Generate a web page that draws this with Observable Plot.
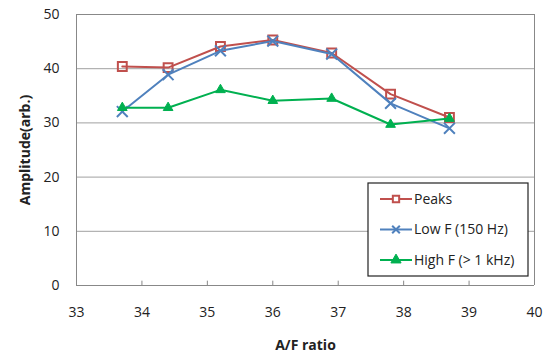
<!DOCTYPE html>
<html><head><meta charset="utf-8">
<script src="https://cdn.jsdelivr.net/npm/d3@7"></script>
<script src="https://cdn.jsdelivr.net/npm/@observablehq/plot@0.6"></script>
<style>
body{margin:0;background:#fff;}
#chart{position:relative;width:550px;height:356px;}
</style>
</head><body><div id="chart"></div>
<script>
const afRatio = [33.7, 34.4, 35.2, 36.0, 36.9, 37.8, 38.7];
const peaks = [40.4, 40.2, 44.1, 45.3, 42.9, 35.3, 31.0];
const lowF = [32.1, 38.9, 43.3, 45.1, 42.7, 33.6, 29.0];
const highF = [32.8, 32.8, 36.1, 34.1, 34.5, 29.7, 30.8];
const seriesNames = ["Peaks", "Low F (150 Hz)", "High F (> 1 kHz)"];
const xTicks = [33, 34, 35, 36, 37, 38, 39, 40];
const yTicks = [0, 10, 20, 30, 40, 50];

const colors = ["#C0504D", "#4F81BD", "#00B050"];
const values = [peaks, lowF, highF];
const data = [];
seriesNames.forEach((s, i) => afRatio.forEach((x, j) => data.push({series: s, x, y: values[i][j]})));

const font = "'Open Sans', 'Liberation Sans', sans-serif";
const marks = [
  Plot.gridY(yTicks, {stroke: "#a0a0a0", strokeOpacity: 1, strokeWidth: 1}),
  Plot.ruleX([33], {stroke: "#888"}),
  Plot.ruleX([40], {stroke: "#888"}),
  Plot.ruleY([0], {stroke: "#888"}),
  Plot.ruleX(xTicks.slice(1, -1), {y1: 0, y2: 0.8, stroke: "#888"}),
];
seriesNames.forEach((s, i) => {
  const d = data.filter(r => r.series === s);
  marks.push(Plot.line(d, {x: "x", y: "y", stroke: colors[i], strokeWidth: 2}));
  if (i === 2) {
    marks.push(Plot.dot(d, {x: "x", y: "y", symbol: "triangle", fill: colors[i], stroke: colors[i], strokeWidth: 1, r: 3.6}));
  } else if (i === 0) {
    marks.push(Plot.dot(d, {x: "x", y: "y", symbol: "square", fill: "none", stroke: colors[i], strokeWidth: 2, r: 5}));
  } else {
    marks.push(Plot.dot(d, {x: "x", y: "y", symbol: "times", fill: "none", stroke: colors[i], strokeWidth: 2, r: 5}));
  }
});

const plot = Plot.plot({
  width: 550, height: 356,
  marginLeft: 76, marginRight: 16, marginTop: 14, marginBottom: 71,
  style: {fontFamily: font, fontSize: "13px", color: "#222", background: "#fff"},
  x: {domain: [33, 40], label: null},
  y: {domain: [0, 50], label: null},
  marks: [
    ...marks,
    Plot.axisX({ticks: xTicks, tickFormat: "d", tickSize: 0, tickPadding: 22, fontSize: 14, fill: "#222", label: null}),
    Plot.axisY({ticks: yTicks, tickFormat: "d", tickSize: 0, tickPadding: 17, fontSize: 14, fill: "#222", label: null}),
    Plot.axisX({ticks: [], label: "A/F ratio", labelAnchor: "center", labelArrow: "none", labelOffset: 64, fontWeight: "bold", fontSize: 14}),
    Plot.axisY({ticks: [], label: "Amplitude(arb.)", labelAnchor: "center", labelOffset: 56, labelArrow: "none", fontWeight: "bold", fontSize: 14}),
    Plot.ruleY([50], {stroke: "#888"})
  ]
});
document.getElementById("chart").appendChild(plot);

// Legend overlay inside the plot area
const svg = d3.select(plot);
const lg = svg.append("g").attr("transform", "translate(368,183)").attr("text-anchor", "start");
lg.append("rect").attr("width", 160).attr("height", 93).attr("fill", "#fff").attr("stroke", "#222").attr("stroke-width", 1.2);
seriesNames.forEach((s, i) => {
  const y = 16 + i * 30.5;
  const g = lg.append("g").attr("transform", `translate(0,${y})`);
  g.append("line").attr("x1", 12).attr("x2", 44).attr("y1", 0).attr("y2", 0).attr("stroke", colors[i]).attr("stroke-width", 2);
  const sym = d3.symbol().type(i === 0 ? d3.symbolSquare : i === 1 ? d3.symbolTimes : d3.symbolTriangle).size(i === 2 ? 45 : 40)();
  g.append("path").attr("d", sym).attr("transform", "translate(28,0)")
    .attr("fill", i === 2 ? colors[i] : "#fff").attr("stroke", colors[i]).attr("stroke-width", i === 2 ? 1 : 2);
  g.append("text").attr("x", 46).attr("y", 0).attr("dy", "0.35em").attr("text-anchor", "start").attr("font-size", 14).attr("fill", "#222").attr("font-family", font).text(s);
});
</script></body></html>
